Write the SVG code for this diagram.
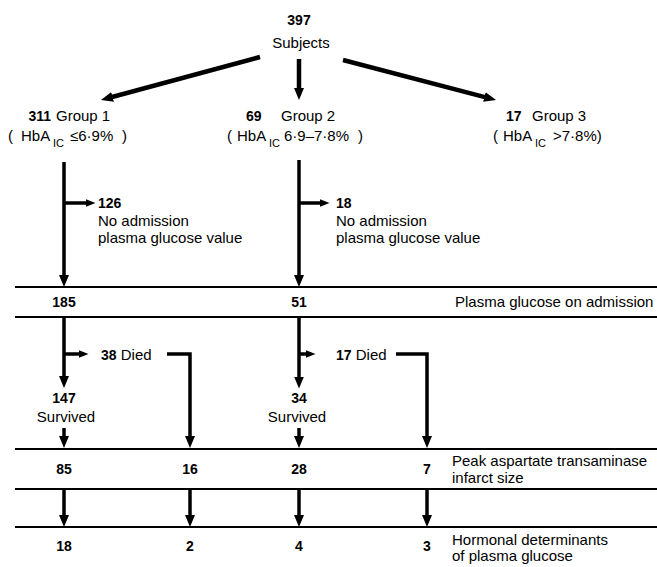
<svg xmlns="http://www.w3.org/2000/svg" width="657" height="567" viewBox="0 0 657 567">
<style>
text{font-family:"Liberation Sans",Arial,sans-serif;fill:#000}
.n{font-size:14px;font-weight:bold}
.t{font-size:15px}
.sub{font-size:11px}
.c{text-anchor:middle}
.e{text-anchor:end}
.ln{stroke:#000;stroke-width:3.5;fill:none;stroke-linejoin:miter}
.dg{stroke:#000;stroke-width:4.5;fill:none}
.rule{stroke:#000;stroke-width:2}
</style>
<defs>
<marker id="ah" markerUnits="userSpaceOnUse" viewBox="0 0 12 10" markerWidth="12" markerHeight="10" refX="0.5" refY="5" orient="auto"><path d="M0,0L12,5L0,10z" fill="#000"/></marker>
<marker id="ahs" markerUnits="userSpaceOnUse" viewBox="0 0 10 8" markerWidth="10" markerHeight="8" refX="0.5" refY="4" orient="auto"><path d="M0,0L10,4L0,8z" fill="#000"/></marker>
</defs>

<g id="rules">
<line class="rule" x1="15" y1="287" x2="657" y2="287"/>
<line class="rule" x1="15" y1="317" x2="657" y2="317"/>
<line class="rule" x1="15" y1="449" x2="657" y2="449"/>
<line class="rule" x1="15" y1="489" x2="657" y2="489"/>
<line class="rule" x1="15" y1="527" x2="657" y2="527"/>
</g>

<g id="connectors">
<line class="dg" x1="260" y1="57" x2="112.1" y2="97" marker-end="url(#ah)"/>
<line class="dg" x1="299" y1="59" x2="299" y2="88.5" marker-end="url(#ah)"/>
<line class="dg" x1="343" y1="60" x2="484.9" y2="97.1" marker-end="url(#ah)"/>
<line class="ln" x1="64" y1="162" x2="64" y2="275.5" marker-end="url(#ah)"/>
<line class="ln" x1="299" y1="160" x2="299" y2="275.5" marker-end="url(#ah)"/>
<line class="ln" x1="64" y1="203" x2="86" y2="203" marker-end="url(#ahs)"/>
<line class="ln" x1="299" y1="203" x2="320" y2="203" marker-end="url(#ahs)"/>
<line class="ln" x1="64" y1="318" x2="64" y2="376.5" marker-end="url(#ah)"/>
<line class="ln" x1="299" y1="318" x2="299" y2="377" marker-end="url(#ah)"/>
<line class="ln" x1="64" y1="354" x2="79" y2="354" marker-end="url(#ahs)"/>
<line class="ln" x1="299" y1="354" x2="306" y2="354" marker-end="url(#ahs)"/>
<path class="ln" d="M167,354H190V436.5" marker-end="url(#ah)"/>
<path class="ln" d="M396,354H427V436.5" marker-end="url(#ah)"/>
<line class="ln" x1="64" y1="428" x2="64" y2="436.5" marker-end="url(#ah)"/>
<line class="ln" x1="299" y1="428" x2="299" y2="436.5" marker-end="url(#ah)"/>
<line class="ln" x1="64" y1="490" x2="64" y2="515.5" marker-end="url(#ah)"/>
<line class="ln" x1="190" y1="490" x2="190" y2="515.5" marker-end="url(#ah)"/>
<line class="ln" x1="299" y1="490" x2="299" y2="515.5" marker-end="url(#ah)"/>
<line class="ln" x1="427" y1="490" x2="427" y2="515.5" marker-end="url(#ah)"/>
</g>

<g id="subjects">
<text class="n c" x="299" y="25">397</text>
<text class="t c" x="301" y="48">Subjects</text>
</g>

<g id="group1">
<text class="n e" x="51" y="121">311</text>
<text class="t" x="56" y="121">Group 1</text>
<text class="t" y="141"><tspan x="8">(</tspan><tspan x="21">HbA</tspan><tspan class="sub" x="53" y="147">IC</tspan><tspan x="70" y="141">≤6·9%</tspan><tspan x="122">)</tspan></text>
</g>

<g id="group2">
<text class="n" x="246" y="121">69</text>
<text class="t" x="281" y="121">Group 2</text>
<text class="t" y="141"><tspan x="227">(</tspan><tspan x="237">HbA</tspan><tspan class="sub" x="269" y="147">IC</tspan><tspan x="284" y="141">6·9–7·8%</tspan><tspan x="358">)</tspan></text>
</g>

<g id="group3">
<text class="n" x="506" y="121">17</text>
<text class="t" x="532" y="121">Group 3</text>
<text class="t" y="141"><tspan x="493">(</tspan><tspan x="503">HbA</tspan><tspan class="sub" x="535" y="147">IC</tspan><tspan x="553" y="141">&gt;7·8%)</tspan></text>
</g>

<g id="nopg1">
<text class="n" x="98" y="208">126</text>
<text class="t" x="98" y="226">No admission</text>
<text class="t" x="98" y="243">plasma glucose value</text>
</g>

<g id="nopg2">
<text class="n" x="336" y="208">18</text>
<text class="t" x="336" y="226">No admission</text>
<text class="t" x="336" y="243">plasma glucose value</text>
</g>

<g id="row-admission">
<text class="n c" x="64" y="307">185</text>
<text class="n c" x="299" y="307">51</text>
<text class="t" x="455" y="307">Plasma glucose on admission</text>
</g>

<g id="died1">
<text class="t" x="101" y="360"><tspan class="n">38</tspan> Died</text>
</g>
<g id="died2">
<text class="t" x="336" y="360"><tspan class="n">17</tspan> Died</text>
</g>

<g id="survived1">
<text class="n c" x="64" y="403">147</text>
<text class="t c" x="66" y="422">Survived</text>
</g>
<g id="survived2">
<text class="n c" x="299" y="403">34</text>
<text class="t c" x="297" y="422">Survived</text>
</g>

<g id="row-ast">
<text class="n c" x="64" y="474">85</text>
<text class="n c" x="190" y="474">16</text>
<text class="n c" x="299" y="474">28</text>
<text class="n c" x="427" y="474">7</text>
<text class="t" x="452" y="466">Peak aspartate transaminase</text>
<text class="t" x="452" y="483">infarct size</text>
</g>

<g id="row-hormonal">
<text class="n c" x="64" y="551">18</text>
<text class="n c" x="190" y="551">2</text>
<text class="n c" x="299" y="551">4</text>
<text class="n c" x="427" y="551">3</text>
<text class="t" x="452" y="545">Hormonal determinants</text>
<text class="t" x="452" y="561">of plasma glucose</text>
</g>
</svg>
